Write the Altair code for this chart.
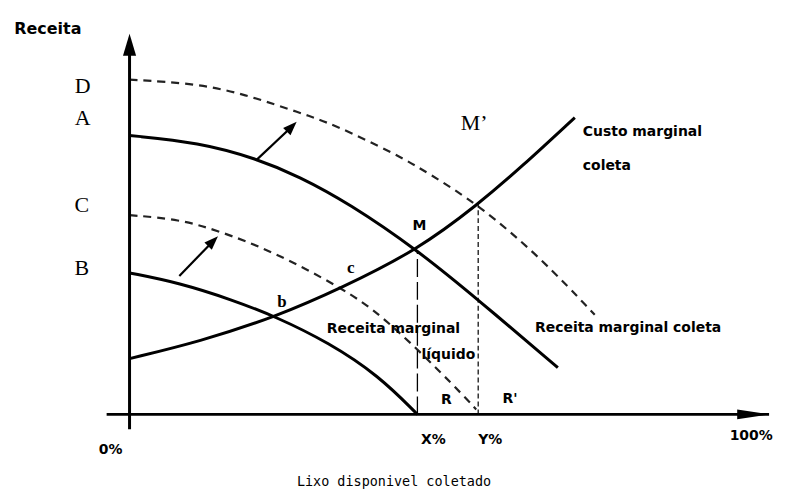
import altair as alt
import pandas as pd

# ---------------- data (x: % of available waste collected, y: revenue / cost) -------------
# Receita marginal coleta (solid, A)
rmc_x = [0, 11.29, 20.48, 27.42, 35.48, 46.61, 56.45, 69.35]
rmc_y = [73.68, 71.84, 67.63, 62.89, 55.79, 43.42, 30.26, 12.37]
# shifted Receita marginal coleta (dashed, D)
rmc2_x = [0, 11.29, 19.35, 27.42, 32.74, 43.55, 48.39, 56.45, 66.61, 75.32]
rmc2_y = [88.42, 87.37, 84.21, 79.74, 76.84, 68.42, 63.68, 55.5, 41.32, 26.32]
# Receita marginal liquido (solid, B)
rml_x = [0, 8.06, 16.61, 23.71, 32.26, 40.32, 46.61]
rml_y = [37.37, 34.74, 30.26, 25.79, 18.95, 10.26, 0.0]
# shifted Receita marginal liquido (dashed, C)
rml2_x = [0, 8.06, 14.52, 23.06, 34.35, 40.81, 51.13, 56.13]
rml2_y = [52.63, 51.58, 48.42, 43.16, 33.42, 26.32, 10.0, 1.32]
# Custo marginal coleta
cmc_x = [0, 11.29, 23.71, 34.35, 46.61, 56.45, 63.39, 72.10]
cmc_y = [14.74, 19.21, 25.79, 33.42, 43.42, 55.5, 65.26, 78.42]

# equilibrium points
x_pct = 46.61   # X%
m_y = 43.42
y_pct = 56.45   # Y%
m2_y = 55.5

# shift arrows (tail -> head)
arrow_x = [8.06, 20.48]
arrow_y = [36.58, 67.11]
arrow_x2 = [13.52, 26.26]
arrow_y2 = [45.74, 76.0]

# labels
serif_lbl = ["D", "A", "C", "B", "M’"]
serif_x = [-7.58, -7.58, -7.74, -7.74, 55.81]
serif_y = [86.84, 78.42, 55.26, 38.68, 76.84]

small_lbl = ["c", "b"]
small_x = [35.81, 24.68]
small_y = [38.68, 29.74]

sans_lbl = ["M", "R", "R'", "X%", "Y%", "100%", "0%"]
sans_x = [46.94, 51.29, 61.61, 49.19, 58.39, 100.65, -3.06]
sans_y = [49.74, 3.68, 3.95, -6.84, -6.84, -5.79, -9.47]

left_lbl = ["Custo marginal", "coleta", "Receita marginal coleta", "Receita marginal", "líquido"]
left_x = [73.39, 73.39, 65.65, 31.94, 47.26]
left_y = [74.47, 65.53, 22.89, 22.63, 15.79]

# ---------------- scales -------------------------------------------------------------------
W, H = 776, 482
XD = [-19.68, -19.68 + W / 6.2]
YD = [107.11 - H / 3.8, 107.11]
xs = alt.Scale(domain=XD, nice=False, zero=False)
ys = alt.Scale(domain=YD, nice=False, zero=False)
X = lambda f: alt.X(f, type="quantitative", scale=xs, axis=None)
Y = lambda f: alt.Y(f, type="quantitative", scale=ys, axis=None)


def curve(xv, yv, name):
    return pd.DataFrame({"x": xv, "y": yv, "s": name})


solid = pd.concat([curve(rmc_x, rmc_y, "rmc"), curve(rml_x, rml_y, "rml"),
                   curve(cmc_x, cmc_y, "cmc")])
dashed = pd.concat([curve(rmc2_x, rmc2_y, "rmc2"), curve(rml2_x, rml2_y, "rml2")])

solid_l = alt.Chart(solid).mark_line(color="black", strokeWidth=3, interpolate="basis").encode(
    x=X("x"), y=Y("y"), detail="s:N")
dashed_l = alt.Chart(dashed).mark_line(color="#222", strokeWidth=2.2, strokeDash=[8, 6],
                                       interpolate="basis").encode(x=X("x"), y=Y("y"), detail="s:N")

# axes
axes_df = pd.DataFrame({"x": [0, -3.71], "y": [-3.95, 0], "x2": [0, 103.55], "y2": [98.5, 0]})
axes = alt.Chart(axes_df).mark_rule(color="black", strokeWidth=3).encode(
    x=X("x"), y=Y("y"), x2="x2", y2="y2")
vhead = alt.Chart(pd.DataFrame({"x": [0], "y": [97.63]})).mark_point(
    shape="M0,-1L0.6,1L-0.6,1Z", size=484, filled=True, color="black", opacity=1).encode(x=X("x"), y=Y("y"))
hhead = alt.Chart(pd.DataFrame({"x": [100.97], "y": [0]})).mark_point(
    shape="M1,0L-1,-0.3L-1,0.3Z", size=1024, filled=True, color="black", opacity=1).encode(x=X("x"), y=Y("y"))

# vertical guides
vx = alt.Chart(pd.DataFrame({"x": [x_pct], "y": [0], "y2": [m_y]})).mark_rule(
    color="black", strokeWidth=1.3, strokeDash=[18, 5]).encode(x=X("x"), y=Y("y"), y2="y2")
vy = alt.Chart(pd.DataFrame({"x": [y_pct], "y": [0], "y2": [m2_y]})).mark_rule(
    color="black", strokeWidth=1.2, strokeDash=[5, 3]).encode(x=X("x"), y=Y("y"), y2="y2")

# shift arrows
arr_df = pd.DataFrame({"x": arrow_x, "y": arrow_y, "x2": arrow_x2, "y2": arrow_y2})
arr = alt.Chart(arr_df).mark_rule(color="black", strokeWidth=2.2).encode(
    x=X("x"), y=Y("y"), x2="x2", y2="y2")
arrh = alt.Chart(arr_df).mark_point(shape="M1,0L-1,-0.75L-1,0.75Z", size=196, filled=True,
                                    color="black", opacity=1, angle=315).encode(x=X("x2"), y=Y("y2"))

# texts
t_serif = alt.Chart(pd.DataFrame({"t": serif_lbl, "x": serif_x, "y": serif_y})).mark_text(
    font="Liberation Serif", fontSize=22, baseline="middle", align="center", color="black").encode(
    x=X("x"), y=Y("y"), text="t:N")
t_small = alt.Chart(pd.DataFrame({"t": small_lbl, "x": small_x, "y": small_y})).mark_text(
    font="Liberation Serif", fontSize=17, fontWeight="bold", baseline="middle", align="center",
    color="black").encode(x=X("x"), y=Y("y"), text="t:N")
t_sans = alt.Chart(pd.DataFrame({"t": sans_lbl, "x": sans_x, "y": sans_y})).mark_text(
    font="DejaVu Sans", fontSize=14, fontWeight="bold", baseline="middle", align="center",
    color="black").encode(x=X("x"), y=Y("y"), text="t:N")
t_left = alt.Chart(pd.DataFrame({"t": left_lbl, "x": left_x, "y": left_y})).mark_text(
    font="DejaVu Sans", fontSize=14, fontWeight="bold", baseline="middle", align="left",
    color="black").encode(x=X("x"), y=Y("y"), text="t:N")
t_title = alt.Chart(pd.DataFrame({"t": ["Receita"], "x": [-13.23], "y": [101.84]})).mark_text(
    font="DejaVu Sans", fontSize=16, fontWeight="bold", baseline="middle", align="center",
    color="black").encode(x=X("x"), y=Y("y"), text="t:N")
t_xlab = alt.Chart(pd.DataFrame({"t": ["Lixo disponivel coletado"], "x": [27.1], "y": [-18.0]})).mark_text(
    font="DejaVu Sans Mono", fontSize=13.5, baseline="middle", align="left", color="black").encode(
    x=X("x"), y=Y("y"), text="t:N")

chart = alt.layer(
    dashed_l, solid_l, axes, vhead, hhead, vx, vy, arr, arrh,
    t_serif, t_small, t_sans, t_left, t_title, t_xlab
).properties(width=W, height=H, autosize=alt.AutoSizeParams(type="none"), padding=0
).configure(background="white", view=alt.ViewConfig(strokeWidth=0, stroke="transparent"))

chart.save("out.html", embed_options={"renderer": "svg", "actions": False})
